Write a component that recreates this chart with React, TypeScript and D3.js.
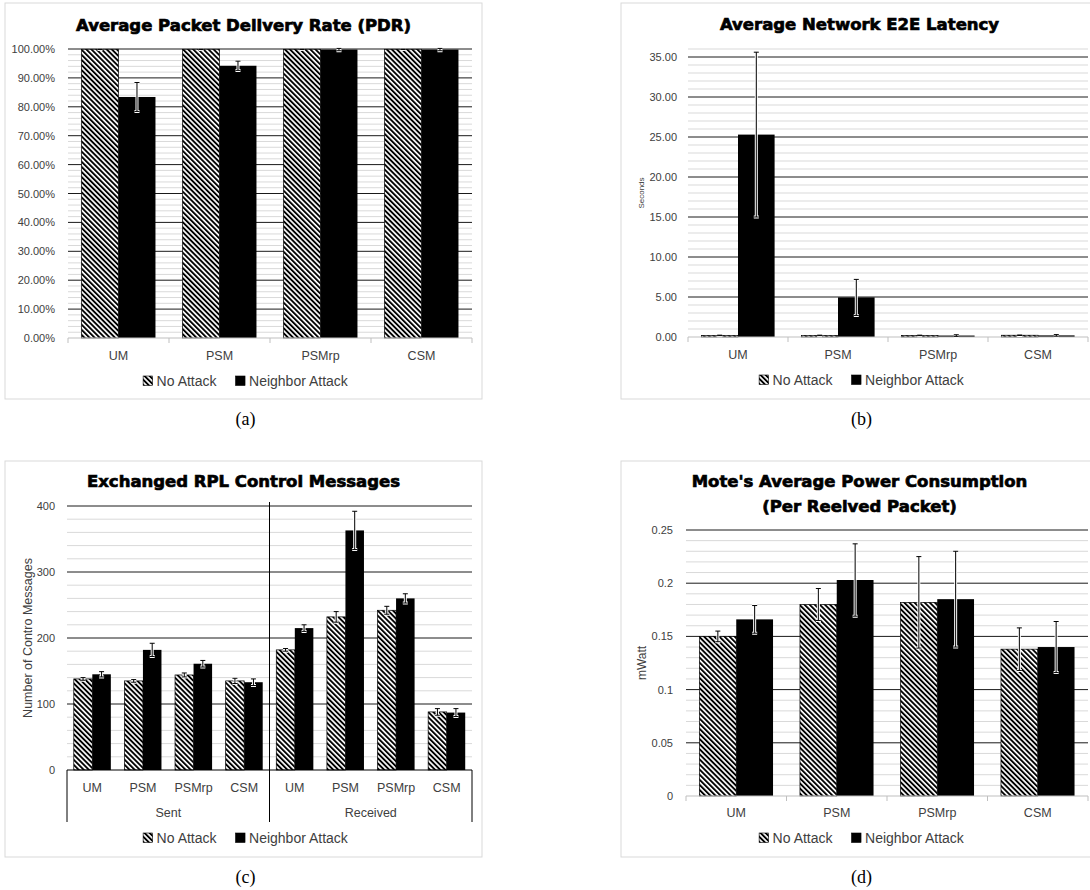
import React, { useEffect, useRef } from "react";
import * as d3 from "d3";

const methods = ["UM", "PSM", "PSMrp", "CSM"];

// (a) average PDR, in percent
const pdrNoAttack = [99.9, 99.9, 99.9, 99.9];
const pdrNoAttackErr = [0.1, 0.1, 0.1, 0.1];
const pdrNeighbor = [83.4, 94.2, 99.8, 99.8];
const pdrNeighborErr = [5.0, 1.6, 0.4, 0.4];

// (b) average E2E latency, seconds
const latNoAttack = [0.2, 0.2, 0.2, 0.22];
const latNoAttackErr = [0.03, 0.03, 0.03, 0.03];
const latNeighbor = [25.3, 4.95, 0.18, 0.2];
const latNeighborErr = [10.3, 2.25, 0.1, 0.1];

// (c) RPL control messages, sent then received
const ctrlGroups = ["Sent", "Received"];
const ctrlCats = [...methods, ...methods];
const ctrlNoAttack = [138, 135, 144, 135, 182, 232, 242, 88];
const ctrlNoAttackErr = [2, 2, 3, 4, 2, 8, 6, 5];
const ctrlNeighbor = [145, 182, 161, 133, 215, 363, 260, 87];
const ctrlNeighborErr = [4, 10, 5, 5, 5, 29, 7, 6];

// (d) power consumption, mWatt
const powNoAttack = [0.15, 0.18, 0.182, 0.138];
const powNoAttackErr = [0.005, 0.015, 0.043, 0.02];
const powNeighbor = [0.166, 0.203, 0.185, 0.14];
const powNeighborErr = [0.013, 0.034, 0.045, 0.024];

const seriesNames = ["No Attack", "Neighbor Attack"];

const panels = [
  {
    frame: [5, 3, 477, 396], titleX: 243.5, title: ["Average Packet Delivery Rate (PDR)"], titleY: [31],
    left: 68, right: 472, top: 49, bottom: 338, max: 100, major: 10, minor: 2,
    fmt: (v: number) => v.toFixed(2) + "%", tickPad: 13,
    cats: methods, no: pdrNoAttack, noErr: pdrNoAttackErr, nb: pdrNeighbor, nbErr: pdrNeighborErr,
    labelY: 360, legendY: 386, caption: "(a)", captionY: 425, grouped: false, yLabel: null,
  },
  {
    frame: [621, 3, 477, 396], titleX: 859.5, title: ["Average Network E2E Latency"], titleY: [30],
    left: 688, right: 1088, top: 49, bottom: 337, max: 36, major: 5, minor: 1,
    fmt: (v: number) => v.toFixed(2), tickPad: 11,
    cats: methods, no: latNoAttack, noErr: latNoAttackErr, nb: latNeighbor, nbErr: latNeighborErr,
    labelY: 359, legendY: 385, caption: "(b)", captionY: 425, grouped: false,
    yLabel: { text: "Seconds", x: 644, size: 8 },
  },
  {
    frame: [5, 461, 477, 396], titleX: 243.5, title: ["Exchanged RPL Control Messages"], titleY: [487],
    left: 67, right: 472, top: 506, bottom: 770, max: 400, major: 100, minor: 20,
    fmt: (v: number) => String(v), tickPad: 12,
    cats: ctrlCats, no: ctrlNoAttack, noErr: ctrlNoAttackErr, nb: ctrlNeighbor, nbErr: ctrlNeighborErr,
    labelY: 792, legendY: 843, caption: "(c)", captionY: 883, grouped: true,
    yLabel: { text: "Number of Contro Messages", x: 32, size: 12.5 },
  },
  {
    frame: [621, 461, 477, 396], titleX: 859.5,
    title: ["Mote's Average Power Consumption", "(Per Reeived Packet)"], titleY: [487, 512],
    left: 686, right: 1088, top: 530, bottom: 796, max: 0.25, major: 0.05, minor: 0.01,
    fmt: (v: number) => String(+v.toFixed(2)), tickPad: 13,
    cats: methods, no: powNoAttack, noErr: powNoAttackErr, nb: powNeighbor, nbErr: powNeighborErr,
    labelY: 817, legendY: 843, caption: "(d)", captionY: 883, grouped: false,
    yLabel: { text: "mWatt", x: 646, size: 12 },
  },
];

const SANS = "'Liberation Sans', Arial, sans-serif";
const TEXT = "#404040";

function errBar(g: any, cx: number, yLo: number, yHi: number) {
  const d = `M${cx - 2.5},${yHi}H${cx + 2.5}M${cx},${yHi}V${yLo}M${cx - 2.5},${yLo}H${cx + 2.5}`;
  g.append("path").attr("d", d).attr("fill", "none").attr("stroke", "#fff").attr("stroke-width", 3);
  g.append("path").attr("d", d).attr("fill", "none").attr("stroke", "#000").attr("stroke-width", 1);
}

function drawPanel(svg: any, p: any) {
  const g = svg.append("g");
  const [fx, fy, fw, fh] = p.frame;
  g.append("rect").attr("x", fx).attr("y", fy).attr("width", fw).attr("height", fh)
    .attr("fill", "#fff").attr("stroke", "#d9d9d9").attr("stroke-width", 1);

  p.title.forEach((t: string, i: number) => {
    g.append("text").attr("x", p.titleX).attr("y", p.titleY[i]).attr("text-anchor", "middle")
      .attr("font-family", "'DejaVu Sans', sans-serif").attr("font-weight", "bold").attr("font-size", 16.5)
      .attr("stroke", "#000").attr("stroke-width", 0.7).attr("fill", "#000").text(t);
  });

  const x = d3.scaleBand<number>().domain(d3.range(p.cats.length)).range([p.left, p.right]);
  const y = d3.scaleLinear().domain([0, p.max]).range([p.bottom, p.top]);

  const n = Math.round(p.max / p.minor);
  const gridVals = d3.range(0, n + 1).map((i) => i * p.minor);
  const isMajor = (v: number) => Math.abs(v / p.major - Math.round(v / p.major)) < 1e-6;

  g.selectAll(".minor").data(gridVals.filter((v) => !isMajor(v) && v > 0)).join("line")
    .attr("x1", p.left).attr("x2", p.right).attr("y1", (d: number) => y(d)).attr("y2", (d: number) => y(d))
    .attr("stroke", "#d9d9d9").attr("stroke-width", 1);
  g.selectAll(".major").data(gridVals.filter((v) => isMajor(v) && v > 0)).join("line")
    .attr("x1", p.left).attr("x2", p.right).attr("y1", (d: number) => y(d)).attr("y2", (d: number) => y(d))
    .attr("stroke", "#1a1a1a").attr("stroke-width", 1);

  // y axis labels
  const yAxis = d3.axisLeft(y).tickValues(gridVals.filter(isMajor)).tickFormat((v: any) => p.fmt(v))
    .tickSize(0).tickPadding(p.tickPad);
  const ya = g.append("g").attr("transform", `translate(${p.left},0)`).call(yAxis);
  ya.select(".domain").remove();
  ya.selectAll("text").attr("font-family", SANS).attr("font-size", 11).attr("fill", TEXT);

  if (p.yLabel) {
    g.append("text").attr("transform", `translate(${p.yLabel.x},${(p.top + p.bottom) / 2}) rotate(-90)`)
      .attr("text-anchor", "middle").attr("font-family", SANS).attr("font-size", p.yLabel.size)
      .attr("fill", TEXT).text(p.yLabel.text);
  }

  // bars
  const bw = x.bandwidth() * 0.366;
  const inner = d3.scaleBand<number>().domain([0, 1]).range([0, bw * 2]);
  const off = (x.bandwidth() - bw * 2) / 2;
  const series = [
    { vals: p.no, errs: p.noErr, fill: "url(#hatch)", stroke: "#000" },
    { vals: p.nb, errs: p.nbErr, fill: "#000", stroke: "none" },
  ];
  series.forEach((s, si) => {
    g.append("g").selectAll("rect").data(s.vals).join("rect")
      .attr("x", (_: number, i: number) => (x(i) as number) + off + (inner(si) as number))
      .attr("width", bw)
      .attr("y", (d: number) => y(d))
      .attr("height", (d: number) => p.bottom - y(d))
      .attr("fill", s.fill).attr("stroke", s.stroke).attr("stroke-width", 0.7);
  });

  // x axis
  if (p.grouped) {
    g.append("line").attr("x1", p.left).attr("x2", p.right).attr("y1", p.bottom).attr("y2", p.bottom)
      .attr("stroke", "#000").attr("stroke-width", 1);
    const per = p.cats.length / ctrlGroups.length;
    const bounds = d3.range(ctrlGroups.length + 1).map((k) =>
      k === ctrlGroups.length ? p.right : (x(k * per) as number));
    bounds.forEach((bx: number, k: number) => {
      const y0 = k > 0 && k < ctrlGroups.length ? p.top - 4 : p.bottom;
      g.append("line").attr("x1", bx).attr("x2", bx).attr("y1", y0).attr("y2", p.bottom + 52)
        .attr("stroke", "#000").attr("stroke-width", 1);
    });
    ctrlGroups.forEach((name, k) => {
      g.append("text").attr("x", (bounds[k] + bounds[k + 1]) / 2).attr("y", p.bottom + 47)
        .attr("text-anchor", "middle").attr("font-family", SANS).attr("font-size", 12.5)
        .attr("fill", TEXT).text(name);
    });
  } else {
    g.append("line").attr("x1", p.left).attr("x2", p.right).attr("y1", p.bottom).attr("y2", p.bottom)
      .attr("stroke", "#bfbfbf").attr("stroke-width", 1);
    d3.range(p.cats.length + 1).forEach((k) => {
      const bx = k === p.cats.length ? p.right : (x(k) as number);
      g.append("line").attr("x1", bx).attr("x2", bx).attr("y1", p.bottom).attr("y2", p.bottom + 5)
        .attr("stroke", "#bfbfbf").attr("stroke-width", 1);
    });
  }
  g.selectAll(".cat").data(p.cats).join("text")
    .attr("x", (_: string, i: number) => (x(i) as number) + x.bandwidth() / 2)
    .attr("y", p.labelY).attr("text-anchor", "middle").attr("font-family", SANS).attr("font-size", 12.5)
    .attr("fill", TEXT).text((d: string) => d);

  // error bars
  series.forEach((s, si) => {
    s.vals.forEach((v: number, i: number) => {
      const cx = (x(i) as number) + off + (inner(si) as number) + bw / 2;
      errBar(g, cx, y(v - s.errs[i]), y(v + s.errs[i]));
    });
  });

  // legend
  const lg = g.append("g");
  let cur = 0;
  seriesNames.forEach((name, si) => {
    lg.append("rect").attr("x", cur).attr("y", -10).attr("width", 9.5).attr("height", 9.5)
      .attr("fill", si === 0 ? "url(#hatch)" : "#000").attr("stroke", "#000").attr("stroke-width", 0.6);
    const t = lg.append("text").attr("x", cur + 13.5).attr("y", 0).attr("font-family", SANS)
      .attr("font-size", 14).attr("fill", TEXT).text(name);
    const w = (t.node() as SVGTextElement).getComputedTextLength();
    cur += 13.5 + w + 19;
  });
  const total = cur - 19;
  lg.attr("transform", `translate(${p.titleX + 2 - total / 2},${p.legendY})`);

  // caption
  g.append("text").attr("x", p.titleX + 2).attr("y", p.captionY).attr("text-anchor", "middle")
    .attr("font-family", "'Liberation Serif', 'Times New Roman', serif").attr("font-size", 18)
    .attr("fill", "#000").text(p.caption);
}

export default function App() {
  const ref = useRef<SVGSVGElement>(null);
  useEffect(() => {
    const svg = d3.select(ref.current);
    svg.selectAll("*").remove();
    const defs = svg.append("defs");
    const pat = defs.append("pattern").attr("id", "hatch").attr("patternUnits", "userSpaceOnUse")
      .attr("width", 3.6).attr("height", 3.6).attr("patternTransform", "rotate(-45)");
    pat.append("rect").attr("width", 3.6).attr("height", 3.6).attr("fill", "#fff");
    pat.append("rect").attr("width", 1.9).attr("height", 3.6).attr("fill", "#000");
    panels.forEach((p) => drawPanel(svg, p));
  }, []);
  return (
    <svg
      ref={ref}
      width={1090}
      height={890}
      style={{ position: "absolute", left: 0, top: 0, background: "#fff" }}
    />
  );
}
